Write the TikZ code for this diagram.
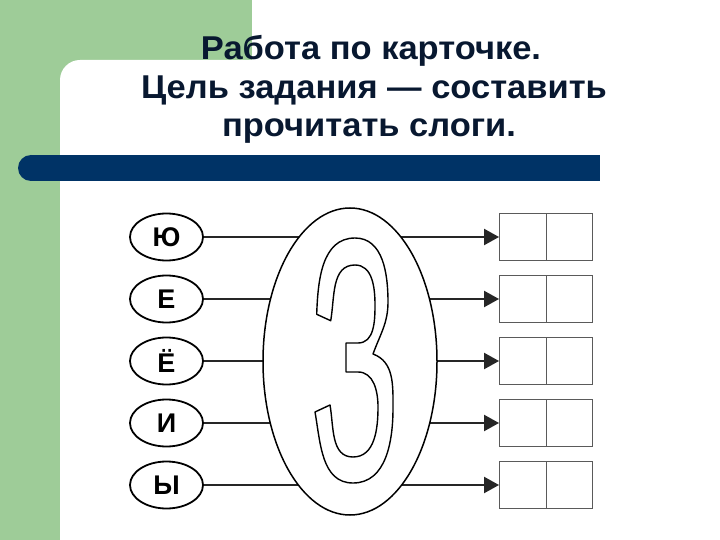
\documentclass[tikz,border=0pt]{standalone}
\usepackage{fontspec}
\setmainfont{Liberation Sans}
\usetikzlibrary{arrows.meta,shapes.geometric}
\definecolor{bggreen}{RGB}{158,204,152}
\definecolor{barnavy}{RGB}{0,51,102}
\definecolor{titlecol}{RGB}{8,24,48}
\definecolor{boxgray}{RGB}{90,90,90}
\tikzset{
  titleline/.style={font=\fontsize{33}{38.5}\selectfont\bfseries, text=titlecol, anchor=base, inner sep=0pt, xscale=1.045, transform shape},
  letteroval/.style={ellipse, draw=black, line width=1.8pt, minimum width=73pt, minimum height=47pt, inner sep=0pt, font=\fontsize{27}{27}\selectfont\bfseries},
  cellbox/.style={draw=boxgray, line width=0.9pt, minimum width=93pt, minimum height=47pt, inner sep=0pt},
  linkarrow/.style={line width=2.2pt, draw=black!85, -{Triangle[length=15pt,width=16pt]}},
  bigoval/.style={ellipse, draw=black, line width=1.5pt, fill=white, minimum width=174pt, minimum height=307pt, inner sep=0pt},
  digitline/.style={draw=black, line width=1.4pt, line join=round}
}
\begin{document}
\begin{tikzpicture}[x=1pt,y=1pt]
\useasboundingbox (0,0) rectangle (720,-540);
% background
\fill[bggreen] (0,0) rectangle (252,-540);
\fill[white, rounded corners=20pt] (60,-60) rectangle (760,-580);
\fill[barnavy] (31,-155) rectangle (600,-181);
\fill[barnavy] (31,-168) circle (13);
% title
\node[titleline] (t1) at (371,-60) {Работа по карточке.};
\node[titleline] (t2) at (374,-98.5) {Цель задания — составить};
\node[titleline] (t3) at (369,-137) {прочитать слоги.};
% rows
\foreach \i/\l/\y in {1/Ю/237,2/Е/299,3/Ё/361,4/И/423,5/Ы/485}{
  \node[letteroval] (o\i) at (166.5,-\y) {\l};
  \node[cellbox] (b\i) at (546,-\y) {};
  \draw[draw=boxgray, line width=0.9pt] (b\i.north) -- (b\i.south);
  \draw[linkarrow] (o\i.east) -- (b\i.west);
}
% big ellipse
\node[bigoval] (big) at (350,-361.5) {};
% digit 3 outline
\draw[digitline]
  (316.7,-314.3) to[out=88,in=180] (355,-238)
  to[out=0,in=90] (388,-302)
  to[out=-90,in=70] (373,-354)
  to[out=-20,in=90] (393,-408)
  to[out=-90,in=0] (353,-483)
  to[out=180,in=-80] (315,-412)
  -- (330,-405)
  to[out=-80,in=180] (353,-457)
  to[out=0,in=-90] (378,-407)
  to[out=90,in=0] (358,-372)
  -- (346,-372) -- (346,-343) -- (358,-343)
  to[out=0,in=-90] (375,-305)
  to[out=90,in=0] (355,-265)
  to[out=180,in=80] (330.7,-320.7)
  -- cycle;
\end{tikzpicture}
\end{document}
